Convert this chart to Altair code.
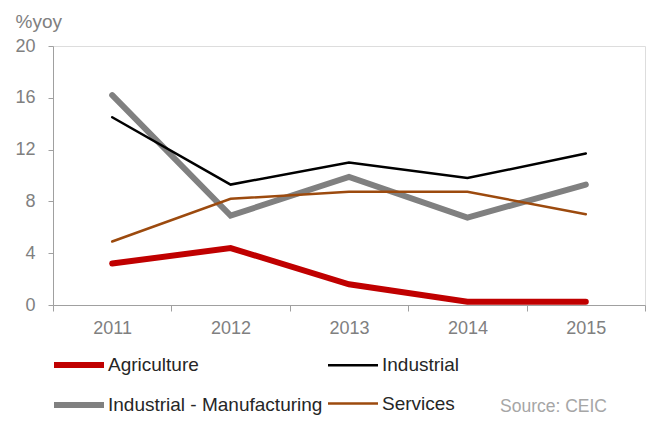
import altair as alt
import pandas as pd

years = ["2011", "2012", "2013", "2014", "2015"]
agriculture = [3.2, 4.4, 1.6, 0.25, 0.25]
industrial = [14.5, 9.3, 11.0, 9.8, 11.7]
manufacturing = [16.2, 6.9, 9.9, 6.75, 9.3]
services = [4.9, 8.2, 8.75, 8.75, 7.0]

series_order = ["Agriculture", "Industrial", "Industrial - Manufacturing", "Services"]
colors = ["#c00000", "#000000", "#808080", "#9c4a0e"]
widths = [6, 2.5, 6, 2.5]

draw = [("Agriculture", agriculture), ("Industrial - Manufacturing", manufacturing),
        ("Industrial", industrial), ("Services", services)]
rows = []
for i, (name, vals) in enumerate(draw):
    for y, v in zip(years, vals):
        rows.append({"year": y, "value": v, "series": name, "k": i})
df = pd.DataFrame(rows)

FONT = "Liberation Sans, Arial"

legend_cfg = dict(title=None, orient="none", legendX=-2, legendY=291, direction="horizontal",
                  columns=2, columnPadding=0, rowPadding=-9,
                  symbolType="stroke", symbolSize=2500,
                  labelFont=FONT, labelFontSize=19,
                  labelColor="#262626", labelOffset=1, labelLimit=400)

chart = alt.Chart(df).mark_line(strokeCap="round", strokeJoin="miter").encode(
    x=alt.X("year:N", sort=years,
            scale=alt.Scale(paddingInner=0, paddingOuter=0),
            axis=alt.Axis(title=None, labelAngle=0, tickBand="extent", tickSize=6,
                          labelPadding=8, labelFontSize=18, labelFont=FONT,
                          labelColor="#808080", domainColor="#a0a0a0",
                          tickColor="#a0a0a0")),
    y=alt.Y("value:Q", scale=alt.Scale(domain=[0, 20], nice=False),
            axis=alt.Axis(values=[0, 4, 8, 12, 16, 20], grid=False, tickSize=5,
                          labelPadding=13, labelFontSize=18, labelFont=FONT,
                          labelColor="#808080", domainColor="#a0a0a0",
                          tickColor="#a0a0a0",
                          title="%yoy", titleAngle=0, titleAlign="left",
                          titleBaseline="alphabetic", titleX=-38, titleY=-19,
                          titleFont=FONT, titleFontSize=19, titleFontWeight="normal",
                          titleColor="#808080")),
    color=alt.Color("series:N", scale=alt.Scale(domain=series_order, range=colors),
                    legend=alt.Legend(**legend_cfg)),
    strokeWidth=alt.StrokeWidth("series:N",
                                scale=alt.Scale(type="ordinal", domain=series_order, range=widths),
                                legend=alt.Legend(**legend_cfg)),
    order=alt.Order("k:Q"),
).properties(
    width=592, height=259,
    title=alt.TitleParams("Source: CEIC", orient="bottom", anchor="end", frame="group",
                          font=FONT, fontSize=17.5, fontWeight="normal", color="#a6a6a6",
                          offset=-19, dx=-38),
    autosize=alt.AutoSizeParams(type="none"),
    padding={"left": 53, "top": 46, "right": 10, "bottom": 118},
).configure_view(stroke="#c0c0c0", strokeWidth=1).configure(background="white")

chart.save("out.html", embed_options={"renderer": "svg", "actions": False})
